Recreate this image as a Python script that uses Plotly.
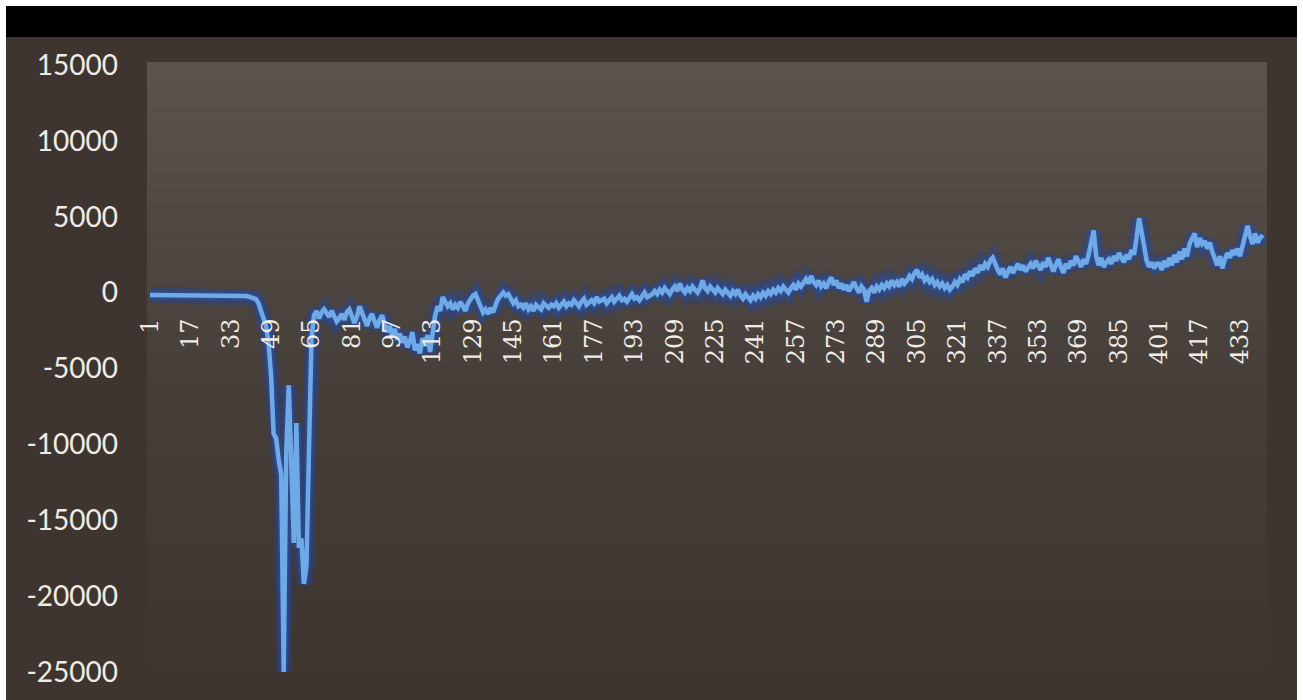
import plotly.graph_objects as go

# Series: one reading per period
periods = list(range(1, 443))
values = [
    -150, -150, -150, -150, -150, -150, -150, -150, -150, -150,
    -150, -150, -150, -150, -150, -150, -150, -150, -150, -150,
    -150, -150, -150, -150, -150, -150, -150, -150, -150, -150,
    -150, -150, -150, -150, -160, -170, -180, -200, -220, -250,
    -300, -350, -420, -700, -1200, -1800, -2200, -3300, -5500, -9300,
    -9600, -11000, -12000, -25000, -10500, -6100, -12500, -16500, -8600, -16800,
    -16200, -19200, -18000, -9000, -3000, -1500, -1200, -1700, -1300, -1100,
    -1400, -1600, -1200, -1500, -1900, -1700, -1400, -1800, -1300, -1100,
    -1500, -2000, -1600, -900, -1300, -1800, -2200, -1700, -1400, -1900,
    -2300, -1800, -1500, -2100, -2600, -2200, -2800, -2400, -3100, -2700,
    -3300, -2900, -3600, -3200, -2600, -3800, -3400, -4000, -3000, -3500,
    -2800, -3900, -2600, -1500, -900, -1200, -300, -600, -900, -700,
    -1100, -800, -1000, -600, -900, -1200, -700, -400, -200, -100,
    -500, -900, -1300, -1100, -1400, -1000, -1300, -800, -400, -200,
    0, -200, -100, -400, -700, -500, -900, -800, -1000, -700,
    -1100, -900, -1200, -800, -1000, -1100, -700, -900, -1000, -800,
    -900, -700, -1000, -800, -600, -900, -700, -800, -500, -700,
    -900, -600, -400, -800, -600, -500, -700, -300, -600, -500,
    -400, -700, -500, -300, -600, -400, -200, -500, -400, -600,
    -300, -100, -400, -300, -500, -200, 0, -300, -200, -100,
    100, -100, 200, 0, 300, 100, -100, 200, 400, 100,
    600, 200, 0, 300, 100, 400, 200, 0, 300, 800,
    300, 100, 400, 200, 0, 300, 100, -100, 200, 0,
    -200, 100, -100, 200, -200, -400, -100, -300, -500, -200,
    -400, -100, -300, 0, -200, 100, -100, 200, 0, 300,
    100, 400, 200, 0, 300, 500, 200, 600, 400, 700,
    900, 600, 1100, 700, 500, 800, 400, 600, 300, 700,
    1000, 500, 800, 300, 600, 200, 500, 100, 400, 700,
    300, 0, 400, 200, -600, 100, 300, 0, 400, 200,
    500, 300, 600, 400, 800, 500, 700, 400, 900, 600,
    800, 1100, 900, 1300, 1500, 1000, 1200, 800, 1000, 700,
    900, 500, 700, 400, 600, 300, 500, 200, 400, 700,
    500, 900, 700, 1200, 1000, 1400, 1100, 1600, 1300, 1800,
    1500, 1900, 1700, 2100, 2300, 1800, 1500, 1200, 1600, 1000,
    1400, 1700, 1300, 1600, 1900, 1500, 1800, 1400, 1700, 1900,
    1600, 2100, 1800, 1500, 2000, 1700, 2300, 1900, 1400, 1800,
    2200, 1700, 1300, 1900, 1600, 2100, 1800, 2400, 2000, 1700,
    2200, 1900, 2500, 3200, 4100, 2400, 1800, 2300, 1700, 2000,
    2200, 1900, 2400, 2100, 2600, 2300, 2000, 2500, 2200, 2800,
    2500, 3600, 4900, 4000, 2800, 2100, 1700, 2000, 1600, 1900,
    1900, 1500, 2100, 1700, 2300, 1800, 2500, 2000, 2700, 2200,
    2900, 2400, 3200, 3500, 3900, 3000, 3600, 3200, 3400, 2900,
    3300, 2700, 2300, 1800, 2400, 1600, 2200, 2600, 2300, 2800,
    2500, 2900, 2400, 3000, 3600, 4400, 3700, 3200, 3900, 3300,
    3600, 3800,
]

# Axis ticks
x_tick_values = [1, 17, 33, 49, 65, 81, 97, 113, 129, 145, 161, 177, 193, 209,
                 225, 241, 257, 273, 289, 305, 321, 337, 353, 369, 385, 401,
                 417, 433]
x_tick_labels = [str(v) for v in x_tick_values]
y_tick_values = [15000, 10000, 5000, 0, -5000, -10000, -15000, -20000, -25000]
y_tick_labels = [str(v) for v in y_tick_values]

Y_MIN, Y_MAX = -26844, 15198
zero_pos = (0 - Y_MIN) / (Y_MAX - Y_MIN)

fig = go.Figure()

# soft halo under the line
fig.add_trace(go.Scatter(
    x=periods, y=values, mode="lines",
    line=dict(color="rgba(30,70,165,0.35)", width=16),
    hoverinfo="skip", showlegend=False,
))
fig.add_trace(go.Scatter(
    x=periods, y=values, mode="lines",
    line=dict(color="rgba(35,80,175,0.55)", width=9),
    hoverinfo="skip", showlegend=False,
))
fig.add_trace(go.Scatter(
    x=periods, y=values, mode="lines",
    line=dict(color="#6faae6", width=4.5),
    showlegend=False,
))

shapes = []
# white frame + dark card + black header strip (paper coordinates)
PL, PW, PH = 147, 1120, 638


def px_x(px):
    return (px - PL) / PW


def px_y(py):
    return (700 - py) / PH


shapes.append(dict(type="rect", xref="paper", yref="paper",
                   x0=px_x(6), x1=px_x(1297), y0=px_y(720), y1=px_y(37),
                   fillcolor="#3e3530", line=dict(width=0), layer="below"))
shapes.append(dict(type="rect", xref="paper", yref="paper",
                   x0=px_x(6), x1=px_x(1297), y0=px_y(37), y1=px_y(6),
                   fillcolor="#000000", line=dict(width=0), layer="below"))

# vertical gradient in the plotting area, lighter at the top
top = (91, 83, 78)
mid = (70, 62, 56)
bot = (62, 53, 48)
n = 40
for k in range(n):
    t = k / (n - 1)
    if t < 0.5:
        u = t / 0.5
        c = tuple(round(top[j] + (mid[j] - top[j]) * u) for j in range(3))
    else:
        u = (t - 0.5) / 0.5
        c = tuple(round(mid[j] + (bot[j] - mid[j]) * u) for j in range(3))
    shapes.append(dict(type="rect", xref="x domain", yref="y domain",
                       x0=0, x1=1, y0=1 - (k + 1) / n, y1=1 - k / n,
                       fillcolor="rgb(%d,%d,%d)" % c, line=dict(width=0),
                       layer="below"))

fig.update_layout(
    width=1303, height=700,
    margin=dict(l=PL, r=1303 - PL - PW, t=62, b=0),
    paper_bgcolor="#ffffff",
    plot_bgcolor="rgba(0,0,0,0)",
    shapes=shapes,
    showlegend=False,
    xaxis=dict(
        range=[-0.19, 443.7],
        tickmode="array", tickvals=x_tick_values, ticktext=x_tick_labels,
        tickangle=-90,
        tickfont=dict(family="DejaVu Serif", size=24, color="#efece6"),
        showgrid=False, zeroline=False, showline=False,
        anchor="free", position=zero_pos,
        ticks="", ticklabelstandoff=20,
    ),
    yaxis=dict(
        range=[Y_MIN, Y_MAX],
        tickmode="array", tickvals=y_tick_values, ticktext=y_tick_labels,
        tickfont=dict(family="Lato", size=28, color="#efece6"),
        showgrid=False, zeroline=False, showline=False,
        ticks="", ticklabelstandoff=28,
    ),
)

fig.write_html("out.html")
